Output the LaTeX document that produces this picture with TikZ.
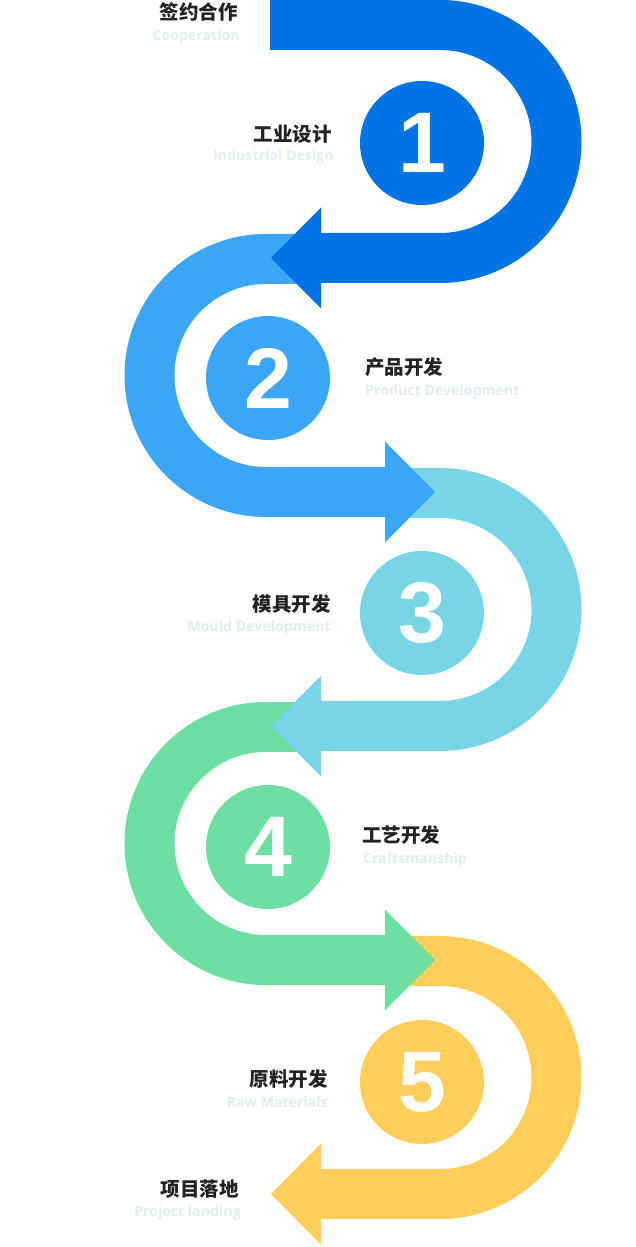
\documentclass[tikz,border=0pt]{standalone}
\usepackage{fontspec}
\newfontfamily\cjk{Noto Sans CJK SC}
\newfontfamily\engf{Open Sans}
\newfontfamily\digf{Liberation Sans}
\definecolor{cA}{HTML}{0273E3}
\definecolor{cB}{HTML}{3CA6F6}
\definecolor{cC}{HTML}{78D5E5}
\definecolor{cD}{HTML}{6DDFA3}
\definecolor{cE}{HTML}{FFCD5C}
\definecolor{cntext}{HTML}{222222}
\definecolor{entext}{HTML}{E3EBF3}
\newcommand\rightU[3]{\fill[#1] (#3,#2) -- (440,#2) arc[start angle=90,end angle=-90,radius=141.5] -- (321,{#2-283}) -- (321,{#2-308.5}) -- (271,{#2-258}) -- (321,{#2-207.5}) -- (321,{#2-233}) -- (440,{#2-233}) arc[start angle=-90,end angle=90,radius=91.5] -- (#3,{#2-50}) -- cycle;}
\newcommand\leftU[3]{\fill[#1] (#3,#2) -- (266,#2) arc[start angle=90,end angle=270,radius=141.5] -- (385,{#2-283}) -- (385,{#2-308.5}) -- (435,{#2-258}) -- (385,{#2-207.5}) -- (385,{#2-233}) -- (266,{#2-233}) arc[start angle=270,end angle=90,radius=91.5] -- (#3,{#2-50}) -- cycle;}
\begin{document}
\begin{tikzpicture}[x=1pt,y=1pt,
  cn/.style={inner sep=0pt, font=\cjk\bfseries\fontsize{19.5}{20}\selectfont, text=cntext},
  en/.style={inner sep=0pt, font=\engf\bfseries\fontsize{14.2}{15}\selectfont, text=entext},
  num/.style={circle, minimum size=124pt, inner sep=0pt, fill=#1, text=white, font=\digf\bfseries\fontsize{86}{86}\selectfont}]
\useasboundingbox (0,0) rectangle (635,1247);
\fill[white] (0,0) rectangle (635,1247);
% segments, last first so earlier arrows lie on top
\rightU{cE}{311}{385}
\leftU{cD}{545}{321}
\rightU{cC}{779}{385}
\leftU{cB}{1013}{321}
\rightU{cA}{1247}{270}
% numbered circles
\node[num=cA] (c1) at (422,1104) {1};
\node[num=cB] (c2) at (268,869) {2};
\node[num=cC] (c3) at (422,634) {3};
\node[num=cD] (c4) at (268,400) {4};
\node[num=cE] (c5) at (422,165) {5};
% labels
\node[cn, anchor=base east] (t0) at (238,1227) {签约合作};
\node[en, anchor=base east] (e0) at (240,1206) {Cooperation};
\node[cn, anchor=base east] (t1) at (332,1105.5) {工业设计};
\node[en, anchor=base east] (e1) at (334,1086) {Industrial Design};
\node[cn, anchor=base west] (t2) at (365,872) {产品开发};
\node[en, anchor=base west] (e2) at (365,851) {Product Development};
\node[cn, anchor=base east] (t3) at (331,635.5) {模具开发};
\node[en, anchor=base east] (e3) at (331,615.3) {Mould Development};
\node[cn, anchor=base west] (t4) at (362,404) {工艺开发};
\node[en, anchor=base west] (e4) at (362.7,383) {Craftsmanship};
\node[cn, anchor=base east] (t5) at (328,160) {原料开发};
\node[en, anchor=base east] (e5) at (328,139.3) {Raw Materials};
\node[cn, anchor=base east] (t6) at (239,50.5) {项目落地};
\node[en, anchor=base east] (e6) at (241,30.3) {Project landing};
\end{tikzpicture}
\end{document}
